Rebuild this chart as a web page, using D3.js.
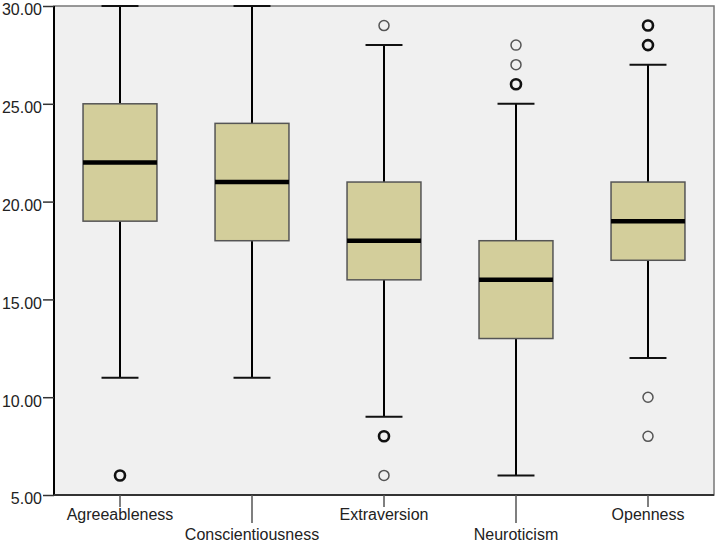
<!DOCTYPE html>
<html>
<head>
<meta charset="utf-8">
<script src="https://cdn.jsdelivr.net/npm/d3@7"></script>
<style>
  body { margin: 0; background: #fff; }
  svg text { font-family: "Liberation Sans", Arial, sans-serif; font-size: 16px; fill: #222; }
</style>
</head>
<body>
<svg id="chart" width="718" height="543"></svg>
<script>
// categories and box statistics
const categories = ["Agreeableness", "Conscientiousness", "Extraversion", "Neuroticism", "Openness"];
const whiskerLow = [11, 11, 9, 6, 12];
const q1 = [19, 18, 16, 13, 17];
const median = [22, 21, 18, 16, 19];
const q3 = [25, 24, 21, 18, 21];
const whiskerHigh = [30, 30, 28, 25, 27];
// outliers: [category index, value, repeated (bold)]
const outliers = [
    [0, 6, true],
    [2, 29, false], [2, 8, true], [2, 6, false],
    [3, 28, false], [3, 27, false], [3, 26, true],
    [4, 29, true], [4, 28, true], [4, 10, false], [4, 8, false]
];
const yTicks = [5, 10, 15, 20, 25, 30];

const margin = {top: 6, right: 4, bottom: 48, left: 54};
const svg = d3.select("#chart");
const width = 718 - margin.left - margin.right;
const height = 543 - margin.top - margin.bottom;

const chart = svg.append("g").attr("transform", "translate(" + margin.left + "," + margin.top + ")");

const x = d3.scaleBand().domain(categories).range([0, width]);
const y = d3.scaleLinear().domain([5, 30]).range([height, 0]);

// plot background
chart.append("rect")
    .attr("width", width).attr("height", height)
    .attr("fill", "#f0f0f0")
    .attr("stroke", "#777").attr("stroke-width", 1.5);

const boxW = x.bandwidth() * 0.56;
const capW = boxW / 2;
const data = categories.map((c, i) => ({
    cat: c, lo: whiskerLow[i], q1: q1[i], med: median[i], q3: q3[i], hi: whiskerHigh[i]
}));

const groups = chart.selectAll("g.box").data(data).enter()
    .append("g").attr("class", "box")
    .attr("transform", d => "translate(" + (x(d.cat) + x.bandwidth() / 2) + ",0)");

// whiskers
groups.append("line")
    .attr("x1", 0).attr("x2", 0)
    .attr("y1", d => y(d.hi)).attr("y2", d => y(d.q3))
    .attr("stroke", "#000").attr("stroke-width", 2);
groups.append("line")
    .attr("x1", 0).attr("x2", 0)
    .attr("y1", d => y(d.q1)).attr("y2", d => y(d.lo))
    .attr("stroke", "#000").attr("stroke-width", 2);
groups.append("line")
    .attr("x1", -capW / 2).attr("x2", capW / 2)
    .attr("y1", d => y(d.hi)).attr("y2", d => y(d.hi))
    .attr("stroke", "#111").attr("stroke-width", 2);
groups.append("line")
    .attr("x1", -capW / 2).attr("x2", capW / 2)
    .attr("y1", d => y(d.lo)).attr("y2", d => y(d.lo))
    .attr("stroke", "#111").attr("stroke-width", 2);

// boxes
groups.append("rect")
    .attr("x", -boxW / 2).attr("width", boxW)
    .attr("y", d => y(d.q3)).attr("height", d => y(d.q1) - y(d.q3))
    .attr("fill", "#d3ce9b").attr("stroke", "#555").attr("stroke-width", 1.5);
groups.append("line")
    .attr("x1", -boxW / 2).attr("x2", boxW / 2)
    .attr("y1", d => y(d.med)).attr("y2", d => y(d.med))
    .attr("stroke", "#000").attr("stroke-width", 4.5);

// outliers
chart.selectAll("circle.out").data(outliers).enter()
    .append("circle").attr("class", "out")
    .attr("cx", d => x(categories[d[0]]) + x.bandwidth() / 2)
    .attr("cy", d => y(d[1]))
    .attr("r", 5)
    .attr("fill", "none")
    .attr("stroke", d => d[2] ? "#111" : "#555")
    .attr("stroke-width", d => d[2] ? 2.6 : 1.5);

// left and bottom axis lines
chart.append("line").attr("x1", 0).attr("x2", 0).attr("y1", 0).attr("y2", height)
    .attr("stroke", "#000").attr("stroke-width", 2);
chart.append("line").attr("x1", 0).attr("x2", width).attr("y1", height).attr("y2", height)
    .attr("stroke", "#333").attr("stroke-width", 2);

// y axis
const yAxis = chart.append("g")
    .call(d3.axisLeft(y).tickValues(yTicks).tickFormat(d3.format(".2f")).tickSize(11).tickPadding(1));
yAxis.select(".domain").remove();
yAxis.selectAll(".tick line").attr("stroke", "#333").attr("stroke-width", 1.5);
yAxis.selectAll(".tick text").attr("fill", "#222").attr("dy", "0.55em")
    .style("font-size", "16px").style("font-family", "'Liberation Sans', Arial, sans-serif");

// x axis with staggered labels
const xAxis = chart.append("g").attr("transform", "translate(0," + height + ")");
const xt = xAxis.selectAll("g.xt").data(categories).enter()
    .append("g").attr("class", "xt")
    .attr("transform", d => "translate(" + (x(d) + x.bandwidth() / 2) + ",0)");
xt.append("line")
    .attr("y1", 0).attr("y2", (d, i) => i % 2 ? 28 : 12)
    .attr("stroke", "#555").attr("stroke-width", 1.5);
xt.append("text")
    .attr("text-anchor", "middle")
    .attr("y", (d, i) => i % 2 ? 45 : 25)
    .text(d => d);
</script>
</body>
</html>
